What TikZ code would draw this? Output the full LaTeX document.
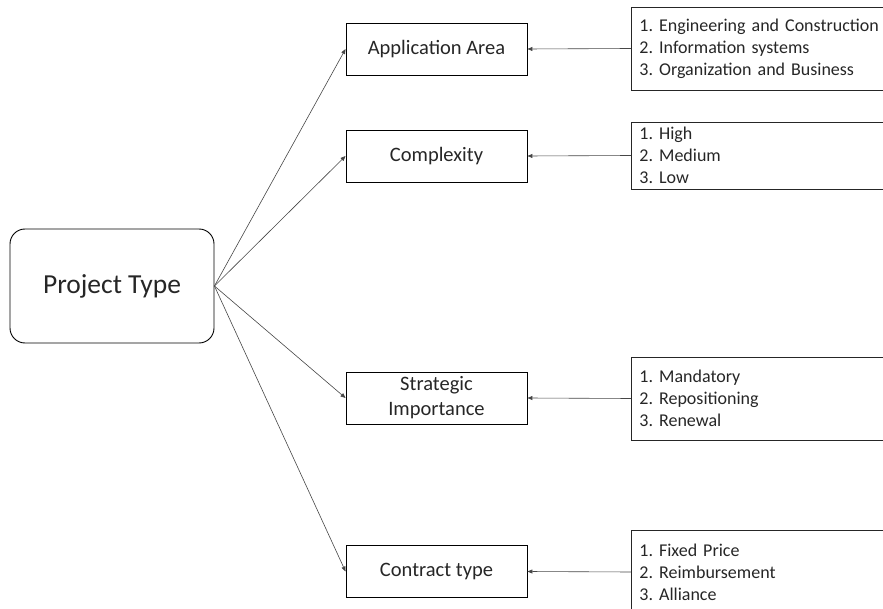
\documentclass[tikz,border=0pt]{standalone}
\usepackage{fontspec}
\setmainfont{Carlito}
\usepackage{tikz}
\usetikzlibrary{arrows.meta,positioning}
\definecolor{lineGray}{RGB}{70,70,70}
\definecolor{textDark}{RGB}{38,38,38}
\frenchspacing

\tikzset{
  typebox/.style={draw=black,line width=0.9pt,rounded corners=15pt,
    minimum width=204pt,minimum height=114pt,text=textDark,
    font=\fontsize{27.5}{32}\selectfont},
  catbox/.style={draw=black,line width=0.9pt,minimum width=181pt,
    minimum height=52pt,text=textDark,align=center,
    font=\fontsize{20.5}{25}\selectfont},
  listbox/.style={draw=black!85,line width=0.9pt,anchor=west,
    text width=280pt,inner xsep=8pt,align=left,text=textDark,
    font=\fontsize{18}{22}\selectfont},
  link/.style={draw=lineGray,line width=0.6pt,-{Triangle[length=5pt,width=4pt]}}
}

\begin{document}
\begin{tikzpicture}[x=1pt,y=-1pt]
  \path[use as bounding box,clip] (0,0) rectangle (883,609);

  % tipo de projeto
  \node[typebox] (ptype) at (112,286) {Project Type};

  % categorias
  \node[catbox] (appArea)    at (436.5,49)    {Application Area};
  \node[catbox] (complexity) at (436.5,156)   {Complexity};
  \node[catbox] (strategic)  at (436.5,398)   {Strategic\\Importance};
  \node[catbox] (contract)   at (436.5,571.5) {Contract type};

  % listas (cortadas na borda)
  \node[listbox,minimum height=83pt] (appList) at (631,48.5)
    {1. Engineering and Construction\\2. Information systems\\3. Organization and Business};
  \node[listbox,minimum height=67pt] (cxList) at (631,155.5)
    {1. High\\2. Medium\\3. Low};
  \node[listbox,minimum height=83pt] (stList) at (631,398.5)
    {1. Mandatory\\2. Repositioning\\3. Renewal};
  \node[listbox,minimum height=84pt] (ctList) at (631,572)
    {1. Fixed Price\\2. Reimbursement\\3. Alliance};

  % ligacoes
  \foreach \cat in {appArea,complexity,strategic,contract}{
    \draw[link] (ptype.east) -- (\cat.west);
  }
  \draw[link] (appList.west) -- (appArea.east);
  \draw[link] (cxList.west) -- (complexity.east);
  \draw[link] (stList.west) -- (strategic.east);
  \draw[link] (ctList.west) -- (contract.east);
\end{tikzpicture}
\end{document}
